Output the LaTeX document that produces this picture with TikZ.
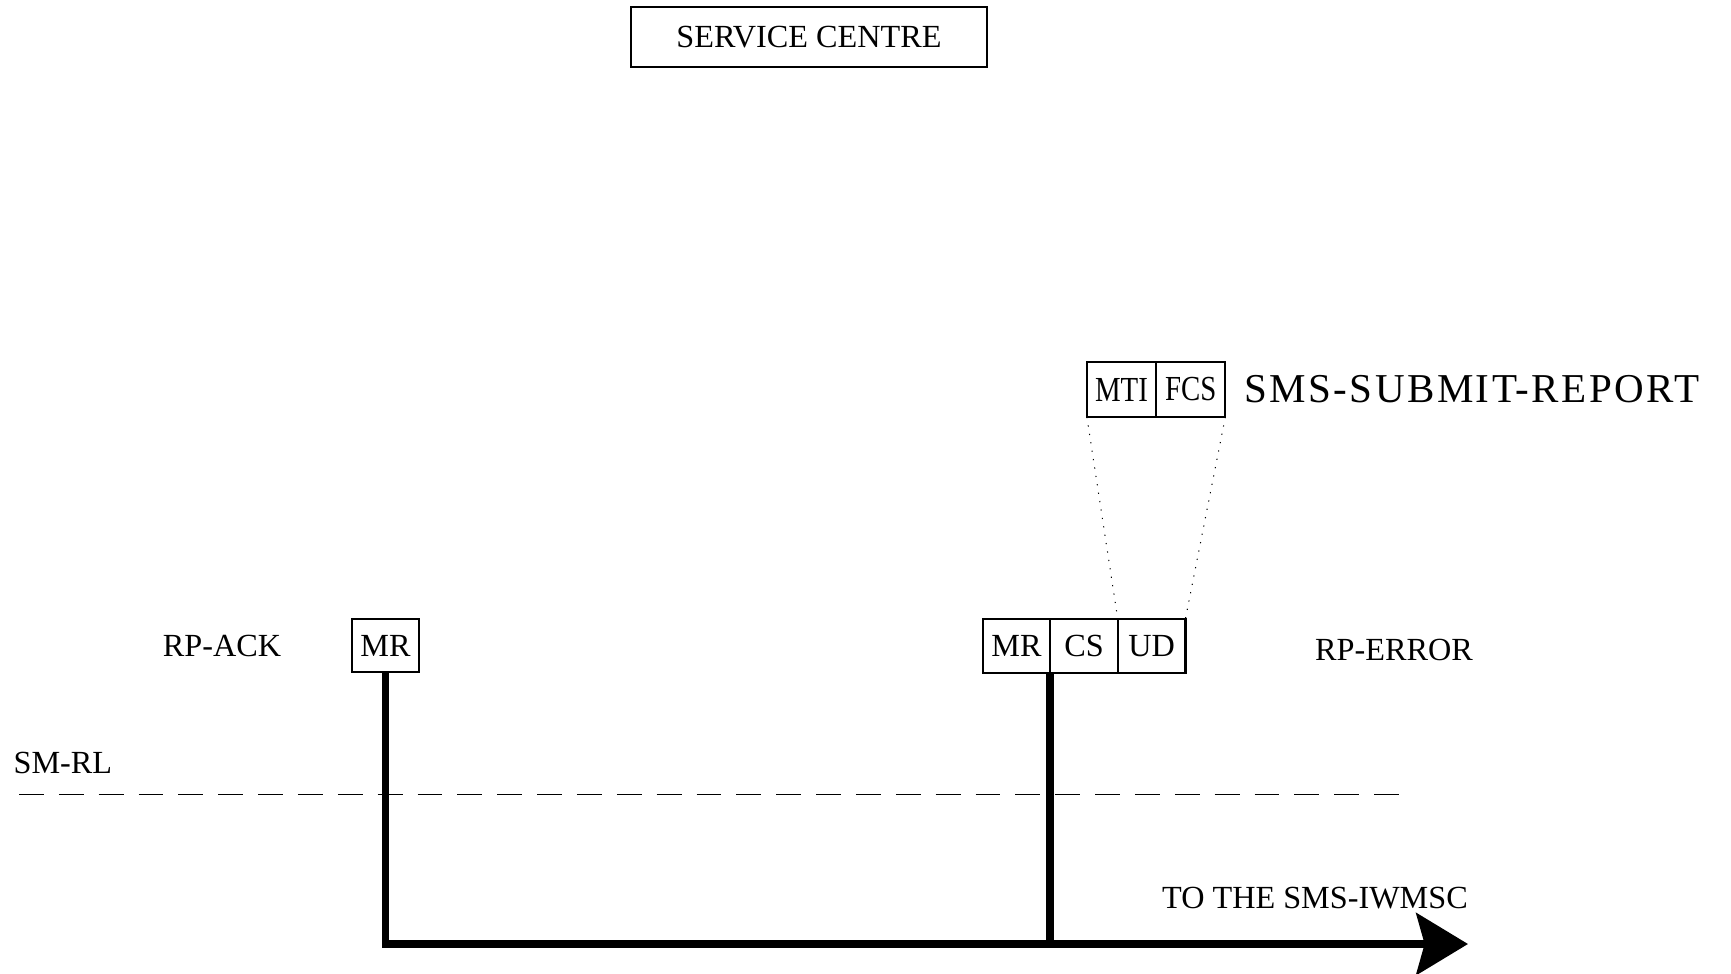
\documentclass[tikz,border=0pt]{standalone}
\usepackage{fontspec}
\setmainfont{Liberation Serif}
\newfontfamily\smestreita[FakeStretch=0.82]{Liberation Serif}
\newfontfamily\smespacada[LetterSpace=6]{Liberation Serif}
\usetikzlibrary{positioning,arrows.meta}
\tikzset{
  smcampo/.style={draw=black, line width=0.8pt, outer sep=0pt, minimum width=0.81cm,
                  minimum height=0.64cm, inner sep=1pt, font=\fontsize{11}{13}\selectfont},
  smcampofino/.style={smcampo, minimum width=0.83cm, minimum height=0.66cm, font=\fontsize{12}{14}\smestreita},
  smrotulo/.style={font=\fontsize{11}{13}\selectfont, inner sep=0pt},
  smlinha/.style={line width=2.7pt},
  smseta/.style={-{Stealth[length=0.62cm, width=0.74cm, inset=0.1cm]}, line width=2.7pt},
  smtracejada/.style={line width=0.3pt, dash pattern=on 8.5pt off 5.1pt},
  smpontilhada/.style={line width=0.35pt, dash pattern=on 0.4pt off 2.5pt},
}

\begin{document}
\begin{tikzpicture}[x=0.012cm, y=-0.012cm]
        \useasboundingbox (0,0) rectangle (1731,974);
        % ---------------- centro de servico ----------------
        \node[smrotulo, draw, line width=0.4pt, minimum width=4.27cm, minimum height=0.72cm] (sc) at (809,37) {SERVICE CENTRE};
        % ---------------- relatorio ----------------
        \node[smcampofino] (mti) at (1121.5,389.5) {MTI};
        \node[smcampofino, right=0pt of mti] (fcs) {FCS};
        \node[smrotulo, font=\fontsize{14}{16}\smespacada, right=0.22cm of fcs] (rep) {SMS-SUBMIT-REPORT};
        % ---------------- mensagens RP ----------------
        \node[smrotulo] (ack) at (222,646) {RP-ACK};
        \node[smcampo] (mra) at (385.5,645.5) {MR};
        \node[smcampo] (mrb) at (1016.5,646) {MR};
        \node[smcampo, right=0pt of mrb] (cs) {CS};
        \node[smcampo, right=0pt of cs] (ud) {UD};
        \node[smrotulo] (err) at (1394,650) {RP-ERROR};
        \draw[smpontilhada] (mti.south west) -- (ud.north west);
        \draw[smpontilhada] (fcs.south east) -- (ud.north east);
        % ---------------- camada SM-RL ----------------
        \node[smrotulo, anchor=west] (rl) at (13,763) {SM-RL};
        \coordinate (tr0) at (19,794);
        \coordinate (tr1) at (1402,794);
        \draw[smtracejada] (tr0) -- (tr1);
        % ---------------- para o IWMSC ----------------
        \coordinate (ponta) at (1468,944);
        \node[smrotulo] (iw) at (1315,898) {TO THE SMS-IWMSC};
        \draw[smseta] (mra.south) |- (ponta);
        \draw[smlinha] (cs.south west) -- (cs.south west |- ponta);
\end{tikzpicture}
\end{document}
